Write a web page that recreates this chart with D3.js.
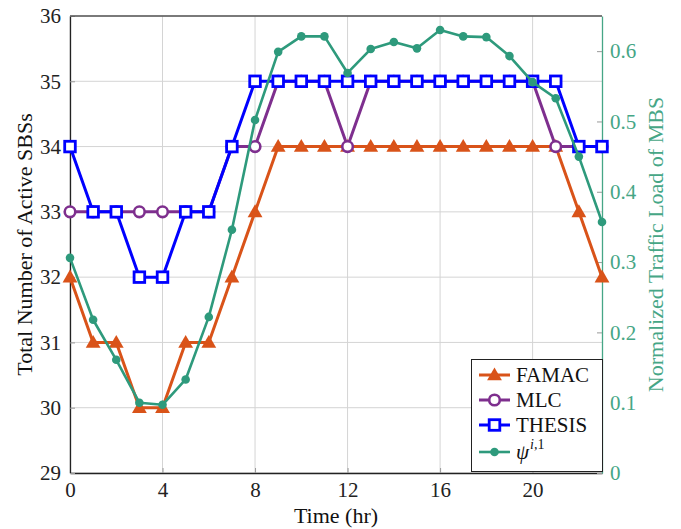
<!DOCTYPE html>
<html>
<head>
<meta charset="utf-8">
<script src="https://cdn.jsdelivr.net/npm/d3@7"></script>
<style>
  html, body { margin: 0; padding: 0; background: #fff; }
  svg { display: block; }
  svg text { font-family: 'Liberation Serif', 'DejaVu Serif', serif; }
</style>
</head>
<body>
<div id="chart"></div>
<script>
// 数据：24 小时的活跃 SBS 数与 MBS 归一化负载
const hours = d3.range(0, 24);
const famac = [32, 31, 31, 30, 30, 31, 31, 32, 33, 34, 34, 34, 34, 34, 34, 34, 34, 34, 34, 34, 34, 34, 33, 32];
const mlc = [33, 33, 33, 33, 33, 33, 33, 34, 34, 35, 35, 35, 34, 35, 35, 35, 35, 35, 35, 35, 35, 34, 34, 34];
const thesis = [34, 33, 33, 32, 32, 33, 33, 34, 35, 35, 35, 35, 35, 35, 35, 35, 35, 35, 35, 35, 35, 35, 34, 34];
const psi = [0.306, 0.218, 0.161, 0.100, 0.097, 0.133, 0.222, 0.346, 0.502, 0.599, 0.621, 0.621,
  0.569, 0.603, 0.613, 0.604, 0.630, 0.621, 0.620, 0.593, 0.556, 0.533, 0.450, 0.357];
const xTicks = [0, 4, 8, 12, 16, 20];
const yTicks = [29, 30, 31, 32, 33, 34, 35, 36];
const y2Ticks = [0, 0.1, 0.2, 0.3, 0.4, 0.5, 0.6];

const W = 681, H = 529;
const ML = 70, MR = 79, MT = 16, MB = 56;
const FONT = "'Liberation Serif', 'DejaVu Serif', serif";
const C = { famac: "#D95319", mlc: "#7E2F8E", thesis: "#0000FF", psi: "#2E9A7C", psiTxt: "#46A686", grid: "#d4d4d4" };

const x = d3.scaleLinear().domain([0, 23]).range([ML, W - MR]);
const y = d3.scaleLinear().domain([29, 36]).range([H - MB, MT]);
const y2 = d3.scaleLinear().domain([0, 0.65]).range([H - MB, MT]);

const svg = d3.select("#chart").append("svg").attr("width", W).attr("height", H);

// 网格
const grid = svg.append("g");
xTicks.forEach(v => grid.append("line").attr("x1", x(v)).attr("x2", x(v)).attr("y1", MT).attr("y2", H - MB)
  .attr("stroke", C.grid).attr("stroke-width", 1));
yTicks.forEach(v => grid.append("line").attr("x1", ML).attr("x2", W - MR).attr("y1", y(v)).attr("y2", y(v))
  .attr("stroke", C.grid).attr("stroke-width", 1));

// 坐标轴
const axB = svg.append("g").attr("transform", `translate(0,${H - MB})`)
  .call(d3.axisBottom(x).tickValues(xTicks).tickFormat(d3.format("d")).tickSizeInner(-5).tickSizeOuter(0).tickPadding(9));
const axL = svg.append("g").attr("transform", `translate(${ML},0)`)
  .call(d3.axisLeft(y).tickValues(yTicks).tickFormat(d3.format("d")).tickSizeInner(-5).tickSizeOuter(0).tickPadding(9));
const axR = svg.append("g").attr("transform", `translate(${W - MR},0)`)
  .call(d3.axisRight(y2).tickValues(y2Ticks).tickFormat(d => d === 0 ? "0" : d3.format(".1f")(d))
    .tickSizeInner(-5).tickSizeOuter(0).tickPadding(8));
[axB, axL, axR].forEach(a => {
  a.attr("font-family", FONT).attr("font-size", 21);
  a.selectAll("text").style("font-family", FONT).style("font-size", "21px").attr("fill", "#222");
  a.selectAll(".tick line").attr("stroke", "#999");
});
axB.select(".domain").attr("stroke", "#222").attr("stroke-width", 1.3);
axL.select(".domain").attr("stroke", "#222").attr("stroke-width", 1.3);
axR.select(".domain").attr("stroke", C.psiTxt).attr("stroke-width", 1.3);
axR.selectAll("text").attr("fill", C.psiTxt);
svg.append("line").attr("x1", ML).attr("x2", W - MR).attr("y1", MT).attr("y2", MT)
  .attr("stroke", "#555").attr("stroke-width", 1.3);

// 轴标题
svg.append("text").attr("x", (ML + W - MR) / 2).attr("y", H - 6).attr("text-anchor", "middle")
  .style("font-size", "22px").attr("fill", "#111").text("Time (hr)");
svg.append("text").attr("transform", `translate(32,${(MT + H - MB) / 2}) rotate(-90)`).attr("text-anchor", "middle")
  .style("font-size", "22px").attr("fill", "#111").text("Total Number of Active SBSs");
svg.append("text").attr("transform", `translate(663,${(MT + H - MB) / 2}) rotate(-90)`).attr("text-anchor", "middle")
  .style("font-size", "22px").attr("fill", C.psiTxt).text("Normalized Traffic Load of MBS");

// 标记
const triPath = d3.symbol().type(d3.symbolTriangle).size(95)();
function marker(g, kind, col) {
  if (kind === "tri") g.append("path").attr("d", triPath).attr("fill", col).attr("transform", "translate(0,1)");
  else if (kind === "circ") g.append("circle").attr("r", 5.3).attr("fill", "#fff").attr("stroke", col).attr("stroke-width", 2.6);
  else if (kind === "sq") g.append("rect").attr("x", -5.3).attr("y", -5.3).attr("width", 10.6).attr("height", 10.6)
    .attr("fill", "#fff").attr("stroke", col).attr("stroke-width", 2.8);
  else g.append("circle").attr("r", 4.3).attr("fill", col);
}

const series = [
  { name: "FAMAC", vals: famac, sc: y, col: C.famac, kind: "tri", w: 3 },
  { name: "MLC", vals: mlc, sc: y, col: C.mlc, kind: "circ", w: 3 },
  { name: "THESIS", vals: thesis, sc: y, col: C.thesis, kind: "sq", w: 3 },
  { name: "psi", vals: psi, sc: y2, col: C.psi, kind: "dot", w: 2.6 },
];

series.forEach(s => {
  const line = d3.line().x((d, i) => x(hours[i])).y(d => s.sc(d));
  svg.append("path").attr("d", line(s.vals)).attr("fill", "none")
    .attr("stroke", s.col).attr("stroke-width", s.w).attr("stroke-linejoin", "round");
  s.vals.forEach((v, i) => {
    const g = svg.append("g").attr("transform", `translate(${x(hours[i])},${s.sc(v)})`);
    marker(g, s.kind, s.col);
  });
});

// 图例
const LX = 471.5, LY = 359.5, LW = 131, LH = 112;
const lg = svg.append("g");
lg.append("rect").attr("x", LX).attr("y", LY).attr("width", LW).attr("height", LH)
  .attr("fill", "#fff").attr("stroke", "#222").attr("stroke-width", 1);
const rowY = [375, 400, 425, 452];
series.forEach((s, i) => {
  const yy = rowY[i];
  lg.append("line").attr("x1", 479).attr("x2", 510).attr("y1", yy).attr("y2", yy)
    .attr("stroke", s.col).attr("stroke-width", s.w);
  marker(lg.append("g").attr("transform", `translate(494.5,${yy})`), s.kind, s.col);
  const t = lg.append("text").attr("x", 516).attr("y", yy + 7)
    .style("font-size", "21px").attr("fill", "#111");
  if (s.name === "psi") {
    t.append("tspan").attr("font-style", "italic").text("ψ");
    t.append("tspan").attr("font-style", "italic").style("font-size", "14px").attr("dy", -10).attr("dx", 1).text("i,");
    t.append("tspan").style("font-size", "14px").text("1");
  } else t.text(s.name);
});
</script>
</body>
</html>
